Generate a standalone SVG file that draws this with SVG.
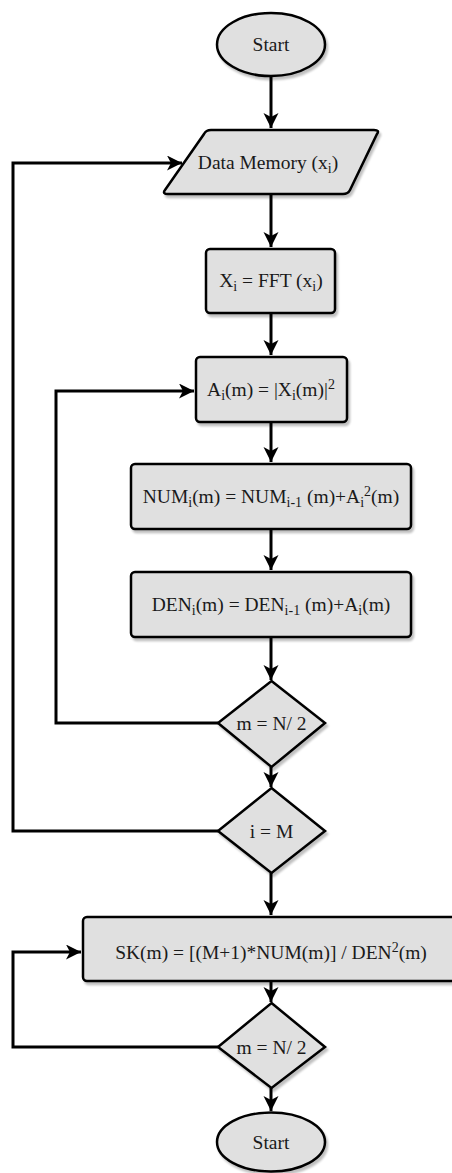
<svg xmlns="http://www.w3.org/2000/svg" width="452" height="1173" viewBox="0 0 452 1173">
  <style>
    .shape { fill: #e0e0e0; stroke: #000; stroke-width: 2.5; filter: url(#shadow); }
    .link { fill: none; stroke: #000; stroke-width: 3; marker-end: url(#arrow); }
    .label { font-family: "Liberation Serif", "Times New Roman", serif; font-size: 19.5px; fill: #1a1a1a; text-anchor: middle; }
    .sub { font-size: 14px; }
  </style>
  <defs>
    <filter id="shadow" x="-10%" y="-10%" width="130%" height="140%">
      <feGaussianBlur in="SourceAlpha" stdDeviation="1.2"/>
      <feOffset dx="2" dy="3" result="off"/>
      <feComponentTransfer><feFuncA type="linear" slope="0.25"/></feComponentTransfer>
      <feMerge><feMergeNode/><feMergeNode in="SourceGraphic"/></feMerge>
    </filter>
    <marker id="arrow" markerUnits="userSpaceOnUse" markerWidth="17" markerHeight="16" refX="15" refY="7.5" orient="auto">
      <path d="M0,0 L15,7.5 L0,15 L4,7.5 z" fill="#000"/>
    </marker>
  </defs>

  <rect width="452" height="1173" fill="#fff"/>

  <g id="connectors">
    <path class="link" d="M271,76 V128"/>
    <path class="link" d="M271,194 V247"/>
    <path class="link" d="M271,313 V355"/>
    <path class="link" d="M271,422 V462"/>
    <path class="link" d="M271,529 V570"/>
    <path class="link" d="M271,637 V680"/>
    <path class="link" d="M271,767 V787"/>
    <path class="link" d="M271,873 V915"/>
    <path class="link" d="M271,981 V1002"/>
    <path class="link" d="M271,1088 V1111"/>
    <path class="link" d="M218,723 H56 V391 H194"/>
    <path class="link" d="M218,831 H13 V163 H182"/>
    <path class="link" d="M218,1047 H13 V952 H81"/>
  </g>

  <g id="start">
    <ellipse class="shape" cx="271" cy="44.5" rx="54" ry="31.5"/>
    <text class="label" x="271" y="51">Start</text>
  </g>

  <g id="data-memory">
    <path class="shape" d="M211,130 H374 Q380,130 377,134 L350,190 Q348,194 343,194 H168 Q162,194 165,190 L204,134 Q206,130 211,130 z"/>
    <text class="label" x="268" y="169">Data Memory (x<tspan class="sub" dy="4">i</tspan><tspan dy="-4">)</tspan></text>
  </g>

  <g id="fft">
    <rect class="shape" x="206" y="249" width="129" height="64" rx="4"/>
    <text class="label" x="271" y="287">X<tspan class="sub" dy="4">i</tspan><tspan dy="-4"> = FFT (x</tspan><tspan class="sub" dy="4">i</tspan><tspan dy="-4">)</tspan></text>
  </g>

  <g id="power">
    <rect class="shape" x="196" y="357" width="151" height="65" rx="4"/>
    <text class="label" x="271" y="396">A<tspan class="sub" dy="4">i</tspan><tspan dy="-4">(m) = |X</tspan><tspan class="sub" dy="4">i</tspan><tspan dy="-4">(m)|</tspan><tspan class="sub" dy="-7">2</tspan></text>
  </g>

  <g id="numerator">
    <rect class="shape" x="131" y="464" width="280" height="65" rx="4"/>
    <text class="label" x="271" y="503">NUM<tspan class="sub" dy="4">i</tspan><tspan dy="-4">(m) = NUM</tspan><tspan class="sub" dy="4">i-1</tspan><tspan dy="-4"> (m)+A</tspan><tspan class="sub" dy="4">i</tspan><tspan class="sub" dy="-11">2</tspan><tspan dy="7">(m)</tspan></text>
  </g>

  <g id="denominator">
    <rect class="shape" x="131" y="572" width="280" height="65" rx="4"/>
    <text class="label" x="271" y="611">DEN<tspan class="sub" dy="4">i</tspan><tspan dy="-4">(m) = DEN</tspan><tspan class="sub" dy="4">i-1</tspan><tspan dy="-4"> (m)+A</tspan><tspan class="sub" dy="4">i</tspan><tspan dy="-4">(m)</tspan></text>
  </g>

  <g id="check-m-inner">
    <path class="shape" d="M271.5,681 L325,723 L271.5,767 L218,723 z"/>
    <text class="label" x="271.5" y="730">m = N/ 2</text>
  </g>

  <g id="check-i">
    <path class="shape" d="M271.5,788 L325,831 L271.5,873 L218,831 z"/>
    <text class="label" x="271.5" y="838">i = M</text>
  </g>

  <g id="spectral-kurtosis">
    <rect class="shape" x="83" y="917" width="380" height="64" rx="4"/>
    <text class="label" x="271" y="959">SK(m) = [(M+1)*NUM(m)] / DEN<tspan class="sub" dy="-7">2</tspan><tspan dy="7">(m)</tspan></text>
  </g>

  <g id="check-m-outer">
    <path class="shape" d="M271.5,1003 L325,1047 L271.5,1088 L218,1047 z"/>
    <text class="label" x="271.5" y="1054">m = N/ 2</text>
  </g>

  <g id="end">
    <ellipse class="shape" cx="271" cy="1142" rx="54" ry="29.5"/>
    <text class="label" x="271" y="1149">Start</text>
  </g>
</svg>
